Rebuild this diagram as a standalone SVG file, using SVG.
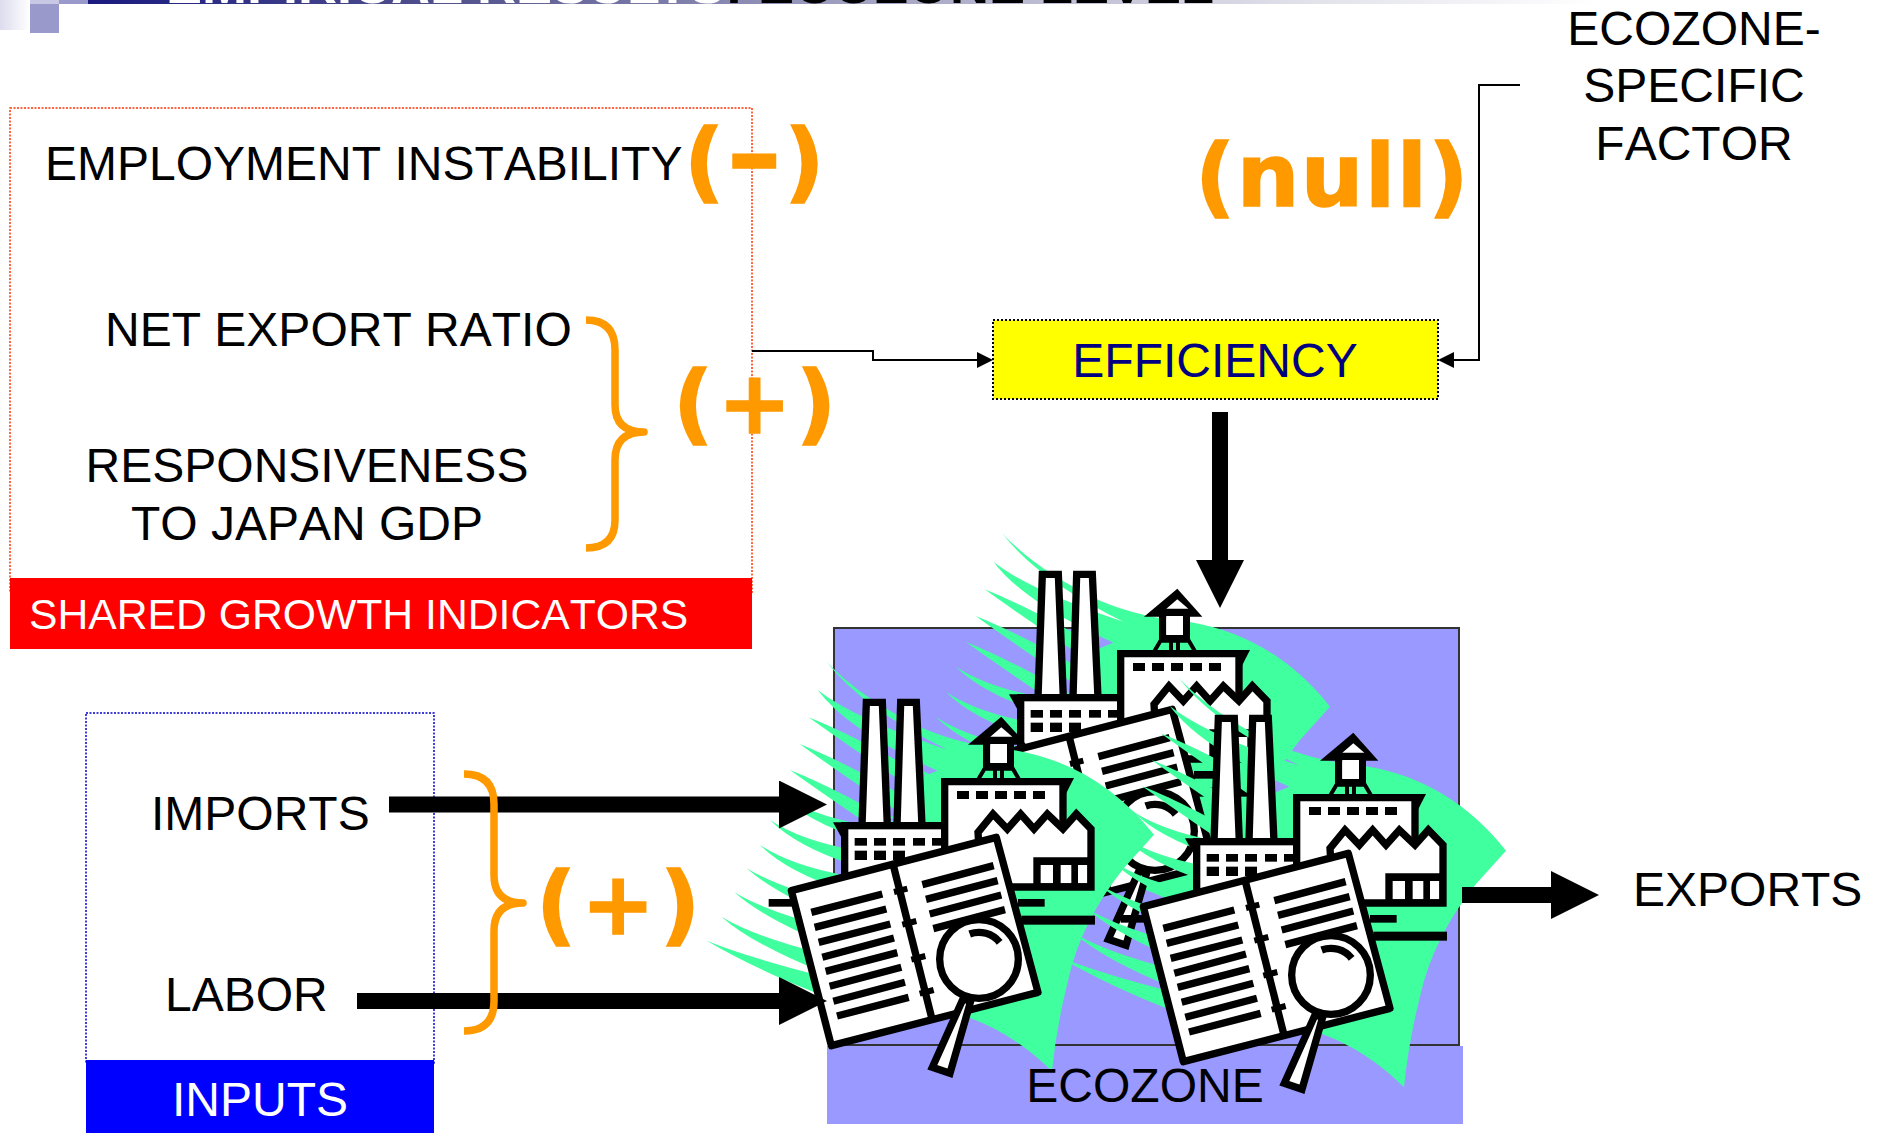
<svg xmlns="http://www.w3.org/2000/svg" xmlns:xlink="http://www.w3.org/1999/xlink" width="1879" height="1133" viewBox="0 0 1879 1133">
<style>
.t{font-family:"Liberation Sans",Arial,sans-serif;font-size:48px;fill:#000;font-kerning:none}
.c{text-anchor:middle}
.w{fill:#fff}
.sign{font-family:"DejaVu Sans",Verdana,sans-serif;font-weight:bold;font-size:88px;fill:#ff9900;stroke:#ff9900;stroke-width:1.5}
.title{font-family:"Liberation Sans",Arial,sans-serif;font-weight:bold;font-size:54px}
.brace{fill:none;stroke:#ff9900;stroke-width:7.5;stroke-linecap:butt;stroke-linejoin:round}
.thin{fill:none;stroke:#000;stroke-width:2}
.thick{fill:none;stroke:#000;stroke-width:16}
.g{fill:#40ff9f}
.k{fill:#000}
.o{fill:#fff;stroke:#000;stroke-width:22}
.ln{fill:none;stroke:#000;stroke-width:22}
</style>
<defs>
<linearGradient id="strip" x1="88" x2="1600" y1="0" y2="0" gradientUnits="userSpaceOnUse">
<stop offset="0" stop-color="#1a1a80"/><stop offset="0.25" stop-color="#55558f"/><stop offset="0.5" stop-color="#9f9fc0"/><stop offset="0.8" stop-color="#e0e0ea"/><stop offset="1" stop-color="#ffffff"/>
</linearGradient>
<linearGradient id="pale" x1="0" x2="30" y1="0" y2="0" gradientUnits="userSpaceOnUse">
<stop offset="0" stop-color="#dcdcee"/><stop offset="1" stop-color="#ffffff"/>
</linearGradient>
<marker id="headThick" viewBox="0 0 48 48" refX="0" refY="24" markerUnits="userSpaceOnUse" markerWidth="48" markerHeight="48" orient="auto"><polygon points="0,0 48,24 0,48" fill="#000"/></marker>
<marker id="headThin" viewBox="0 0 16 16" refX="0" refY="8" markerUnits="userSpaceOnUse" markerWidth="16" markerHeight="16" orient="auto"><polygon points="0,0 16,8 0,16" fill="#000"/></marker>
<g id="clipart">
<path class="g" d="M236,-7Q340,105 530,195Q650,245 796,258Q1050,300 1218,512L1130,610Q1000,770 960,950Q925,1090 912,1222Q800,1110 660,1060L400,900L500,700L520,340L568,320Q300,200 209,78Q320,165 598,257Q340,130 236,-7Z"/>
<path class="g" d="M182,160Q332,220 552,350L532,400Q292,240 182,160Z"/>
<path class="g" d="M155,240Q305,300 525,430L505,480Q265,320 155,240Z"/>
<path class="g" d="M126,318Q276,378 496,508L476,558Q236,398 126,318Z"/>
<path class="g" d="M96,392Q186,452 346,482L346,527Q176,472 96,392Z"/>
<path class="g" d="M66,468Q156,528 316,558L316,603Q146,548 66,468Z"/>
<path class="g" d="M36,543Q126,603 286,633L286,678Q116,623 36,543Z"/>
<path class="g" d="M-4,613Q96,673 296,723L296,778Q86,693 -4,613Z"/>
<path class="g" d="M-41,685Q59,745 259,795L259,850Q49,765 -41,685Z"/>
<path class="g" d="M-80,758Q20,818 220,868L220,923Q10,838 -80,758Z"/>
<path class="g" d="M-124,830Q0,880 216,935L226,995Q30,920 -124,830Z"/>
<polygon class="o" points="355,115 403,115 418,485 342,485"/>
<polygon class="o" points="458,115 505,115 522,485 447,485"/>
<rect class="o" x="290" y="485" width="300" height="215"/>
<polygon class="k" points="255,475 290,475 290,525 280,520"/>
<rect class="k" x="320" y="522" width="37" height="23"/><rect class="k" x="378" y="522" width="36" height="23"/><rect class="k" x="435" y="522" width="36" height="23"/><rect class="k" x="495" y="522" width="36" height="23"/><rect class="k" x="552" y="522" width="36" height="23"/>
<rect class="k" x="320" y="560" width="37" height="28"/><rect class="k" x="378" y="560" width="36" height="28"/><rect class="k" x="435" y="560" width="36" height="28"/>
<polygon class="o" points="590,353 945,353 945,560 590,640"/>
<polygon class="k" points="945,342 978,342 955,387 945,400"/>
<rect class="k" x="627" y="381" width="36" height="24"/><rect class="k" x="684" y="381" width="36" height="24"/><rect class="k" x="741" y="381" width="36" height="24"/><rect class="k" x="798" y="381" width="36" height="24"/><rect class="k" x="855" y="381" width="36" height="24"/>
<path class="ln" style="stroke-width:12" d="M718,300L692,344M786,300L812,344M741,310V344M762,310V344M710,314H792"/>
<rect class="o" x="716" y="229" width="71" height="78"/>
<polygon class="k" points="660,242 760,158 835,242"/>
<polygon class="w" points="727,218 760,190 793,218"/>
<rect class="w" x="727" y="240" width="50" height="57"/>
<polygon class="o" points="690,505 735,450 778,495 818,450 858,495 898,450 945,495 985,450 1029,495 1029,669 700,669"/>
<path class="k" fill-rule="evenodd" d="M856,580H1030V660H856ZM878,603V658H915V603ZM938,603V658H970V603ZM990,603V658H1018V603Z"/>
<rect class="k" x="62" y="705" width="80" height="23"/><rect class="k" x="810" y="705" width="80" height="23"/><rect class="k" x="820" y="755" width="221" height="27"/>
<polygon class="w" points="745,520 870,985 250,1145 130,680" stroke="#000" stroke-width="22" stroke-linejoin="round"/>
<path class="ln" d="M435,600L552,1065"/>
<path class="ln" style="stroke-width:18" d="M438,684L478,674M463,782L505,771M490,887L532,876M515,989L557,978"/>
<path class="ln" d="M190,745L403,690M200,790L415,735M212,835L427,780M223,880L438,822M233,922L448,866M245,967L460,910M256,1012L471,955M267,1056L482,1000M523,662L737,605M534,706L749,650M545,750L760,693M556,794L771,737"/>
<polygon class="o" points="645,1005 668,1012 606,1228 553,1210"/>
<circle class="o" cx="693" cy="885" r="118"/>
<path class="ln" d="M665,810A80,80 0 0 1 755,835"/>
</g>
</defs>

<g id="header">
<rect x="0" y="0" width="30" height="30" fill="url(#pale)"/>
<rect x="30" y="0" width="29" height="4" fill="#c8c8e4"/>
<rect x="30" y="4" width="29" height="29" fill="#9999cc"/>
<rect x="59" y="0" width="29" height="4" fill="#9999cc"/>
<rect x="88" y="0" width="1791" height="4" fill="url(#strip)"/>
<text class="title" x="166" y="3" fill="#fff">EMPIRICAL RESULTS<tspan fill="#000">: ECOZONE LEVEL</tspan></text>
</g>

<g id="shared-growth">
<rect x="10" y="108" width="742" height="485" fill="#fff" stroke="#ff3300" stroke-width="1.5" stroke-dasharray="2 1.5"/>
<rect x="10" y="578" width="742" height="71" fill="#ff0000"/>
<text class="t w" x="29" y="629" style="font-size:42.7px">SHARED GROWTH INDICATORS</text>
<text class="t" x="45" y="180">EMPLOYMENT INSTABILITY</text>
<text class="t" x="105" y="346">NET EXPORT RATIO</text>
<text class="t c" x="307" y="482">RESPONSIVENESS</text>
<text class="t c" x="307" y="540">TO JAPAN GDP</text>
</g>

<g id="inputs">
<rect x="86" y="713" width="348" height="350" fill="#fff" stroke="#0000cc" stroke-width="1.5" stroke-dasharray="2 1.5"/>
<rect x="86" y="1060" width="348" height="73" fill="#0000ff"/>
<text class="t w c" x="260" y="1116">INPUTS</text>
<text class="t" x="151" y="829.500">IMPORTS</text>
<text class="t" x="165" y="1011">LABOR</text>
</g>

<g id="ecozone">
<rect x="834" y="628" width="625" height="417" fill="#9999ff" stroke="#333" stroke-width="2"/>
<rect x="827" y="1046" width="636" height="78" fill="#9999ff"/>
<use xlink:href="#clipart" href="#clipart" transform="translate(924,536) scale(0.33333)"/>
<use xlink:href="#clipart" href="#clipart" transform="translate(748,664) scale(0.33333)"/>
<use xlink:href="#clipart" href="#clipart" transform="translate(1100,680) scale(0.33333)"/>
<text class="t c" x="1145" y="1102">ECOZONE</text>
</g>

<g id="efficiency">
<rect x="993" y="320" width="445" height="79" fill="#ffff00" stroke="#000" stroke-width="2" stroke-dasharray="2 2"/>
<text class="t c" x="1215" y="377" style="fill:#000080">EFFICIENCY</text>
</g>

<g id="connectors">
<path class="thin" marker-end="url(#headThin)" d="M752,351H873V360H977"/>
<path class="thin" marker-end="url(#headThin)" d="M1520,85H1479V360H1454"/>
<path class="thick" marker-end="url(#headThick)" d="M1220,412V560"/>
<path class="thick" marker-end="url(#headThick)" d="M389,804.500H779"/>
<path class="thick" marker-end="url(#headThick)" d="M357,1001H779"/>
<path class="thick" marker-end="url(#headThick)" d="M1462,895H1551"/>
</g>

<g id="braces">
<path class="brace" d="M586,320Q615,320 615,350V405Q615,432 644,432Q615,432 615,460V520Q615,548 586,548"/>
<path class="brace" d="M464,774Q494,774 494,804V875Q494,903 523,903Q494,903 494,931V1001Q494,1031 464,1031"/>
</g>

<g id="signs">
<text class="sign" x="684" y="191" letter-spacing="3">(<tspan font-size="108">–</tspan>)</text>
<text class="sign" x="673" y="433" letter-spacing="4.500">(+)</text>
<text class="sign" x="536" y="934" letter-spacing="5">(+)</text>
<text class="sign" x="1195" y="206" letter-spacing="1.500">(null)</text>
</g>

<g id="labels">
<text class="t c" x="1694" y="45">ECOZONE-</text>
<text class="t c" x="1694" y="102">SPECIFIC</text>
<text class="t c" x="1694" y="160">FACTOR</text>
<text class="t" x="1633" y="906">EXPORTS</text>
</g>
</svg>
